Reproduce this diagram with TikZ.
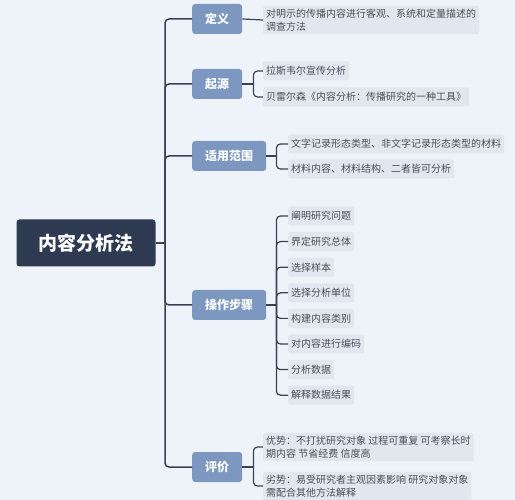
\documentclass[tikz,border=0pt]{standalone}
\usepackage{fontspec}
\setmainfont{Noto Sans CJK SC}
\usetikzlibrary{positioning}
\definecolor{mapbg}{RGB}{238,243,250}
\definecolor{rootnavy}{RGB}{45,58,82}
\definecolor{branchblue}{RGB}{124,151,192}
\definecolor{leafgray}{RGB}{226,231,239}
\definecolor{leaftext}{RGB}{75,78,86}
\definecolor{linkgray}{RGB}{58,66,85}

\begin{document}
\begin{tikzpicture}[
  x=1pt, y=-1pt,
  root/.style={rectangle, rounded corners=3pt, fill=rootnavy, text=white,
              minimum width=139pt, minimum height=47pt, font=\fontsize{19}{22}\selectfont\bfseries},
  branch/.style={rectangle, rounded corners=3pt, fill=branchblue, text=white, anchor=west,
              inner xsep=13pt, minimum height=30pt, font=\fontsize{12}{14}\selectfont\bfseries},
  leaf/.style={rectangle, rounded corners=2pt, fill=leafgray, text=leaftext, anchor=west,
              align=left, inner xsep=3pt, inner ysep=3pt, minimum height=19pt,
              font=\fontsize{10}{13}\selectfont},
  link/.style={draw=linkgray, line width=1.5pt, rounded corners=4pt},
  twig/.style={draw=linkgray, line width=1.2pt, rounded corners=4pt},
]
\fill[mapbg] (0,0) rectangle (515,500);
\useasboundingbox (0,0) rectangle (515,500);

% centre and main branches
\node[root] (root) at (86,243) {内容分析法};
\coordinate (trunk) at (165,243);
\node[branch] (def) at (192,19) {定义};
\node[branch] (orig) at (192,84) {起源};
\node[branch] (scope) at (192,156) {适用范围};
\node[branch] (steps) at (192,305) {操作步骤};
\node[branch] (eval) at (192,467) {评价};

\draw[link] (root.east) -- (trunk);
\foreach \b in {def, orig, scope, steps, eval}
  \draw[link] (trunk) |- (\b.west);

% leaves
\node[leaf] (d1) at (263,20) {对明示的传播内容进行客观、系统和定量描述的\\调查方法};
\node[leaf] (o1) at (263,71) {拉斯韦尔宣传分析};
\node[leaf] (o2) at (263,97) {贝雷尔森《内容分析：传播研究的一种工具》};
\node[leaf] (c1) at (288,144) {文字记录形态类型、非文字记录形态类型的材料};
\node[leaf] (c2) at (288,169) {材料内容、材料结构、二者皆可分析};
\foreach \t [count=\i] in {阐明研究问题, 界定研究总体, 选择样本, 选择分析单位,
                          构建内容类别, 对内容进行编码, 分析数据, 解释数据结果}
  \node[leaf] (s\i) at (288,{216+25.6*(\i-1)}) {\t};
\node[leaf] (e1) at (263,447) {优势：不打扰研究对象 过程可重复 可考察长时\\期内容 节省经费 信度高};
\node[leaf] (e2) at (263,486) {劣势：易受研究者主观因素影响 研究对象对象\\需配合其他方法解释};

\draw[twig] (def.east) -- (d1.west);

\draw[twig] (orig.east) -- ++(11,0) coordinate (ko);
\draw[twig] (ko) |- (o1.west);
\draw[twig] (ko) |- (o2.west);

\draw[twig] (scope.east) -- ++(10,0) coordinate (kc);
\draw[twig] (kc) |- (c1.west);
\draw[twig] (kc) |- (c2.west);

\draw[twig] (steps.east) -- ++(10,0) coordinate (ks);
\foreach \i in {1,...,8}
  \draw[twig] (ks) |- (s\i.west);

\draw[twig] (eval.east) -- ++(11,0) coordinate (ke);
\draw[twig] (ke) |- (e1.west);
\draw[twig] (ke) |- (e2.west);
\end{tikzpicture}
\end{document}
